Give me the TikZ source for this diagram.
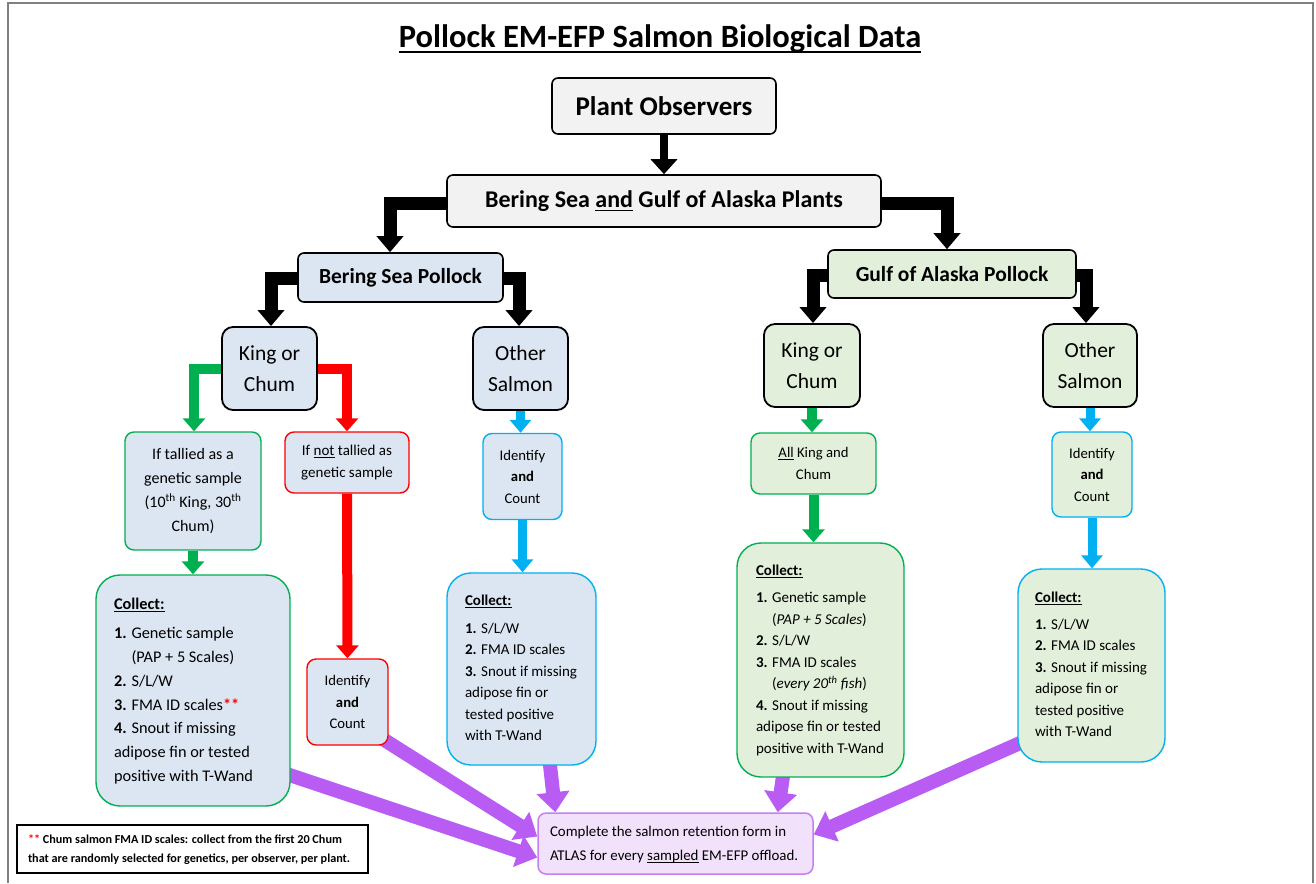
\documentclass[tikz,border=0pt]{standalone}
\usepackage{fontspec}
\setmainfont{Carlito}
\usetikzlibrary{arrows.meta,calc,backgrounds}
\definecolor{grayfill}{HTML}{F2F2F2}
\definecolor{bsfill}{HTML}{DCE6F2}
\definecolor{gofill}{HTML}{E2EFDA}
\definecolor{cgreen}{HTML}{00B050}
\definecolor{cblue}{HTML}{00B0F0}
\definecolor{cred}{HTML}{FF0000}
\definecolor{cpurple}{HTML}{B95CF4}
\definecolor{finfill}{HTML}{F2E1FB}
\definecolor{finline}{HTML}{C77EF2}
\definecolor{framegray}{HTML}{808080}
\newsavebox\ulbox
\newcommand\myul[1]{\sbox\ulbox{#1}\rlap{\rule[-0.17em]{\wd\ulbox}{0.065em}}\usebox\ulbox}
\newcommand\lefttext[2]{\makebox[#1][l]{\begin{tabular}{@{}l@{}}#2\end{tabular}}}
\begin{document}
\begin{tikzpicture}[x=1pt,y=-1pt,
  every node/.style={inner sep=0pt, text=black},
  sz/.style n args={2}{minimum width=#1pt, minimum height=#2pt},
  topbox/.style={draw=black, line width=1.6pt, fill=grayfill, rounded corners=6pt},
  bsreg/.style={draw=black, line width=1.6pt, fill=bsfill, rounded corners=6pt},
  goreg/.style={draw=black, line width=1.6pt, fill=gofill, rounded corners=6pt},
  bsspec/.style={draw=black, line width=1.8pt, fill=bsfill, rounded corners=11pt, align=center, font=\fontsize{21.5}{31}\selectfont},
  gospec/.style={draw=black, line width=1.8pt, fill=gofill, rounded corners=11pt, align=center, font=\fontsize{21.5}{31}\selectfont},
  smallbox/.style={line width=1.4pt, rounded corners=9pt, align=center},
  collectbox/.style={line width=1.4pt, rounded corners=24pt},
  blk/.style={draw=black, line width=13pt, line join=miter, -{Triangle[width=26pt,length=16pt]}},
  blkthin/.style={draw=black, line width=8pt, -{Triangle[width=26pt,length=15pt]}},
  garr/.style={draw=cgreen, line width=10pt, line join=miter, -{Triangle[width=22pt,length=13pt]}},
  rarr/.style={draw=cred, line width=10pt, line join=miter, -{Triangle[width=22pt,length=13pt]}},
  barr/.style={draw=cblue, line width=9pt, -{Triangle[width=21pt,length=13pt]}},
  parr/.style={draw=cpurple, line width=14pt, -{Triangle[width=32pt,length=20pt]}}
]
\useasboundingbox (0,0) rectangle (1316,883);
\draw[framegray, line width=1.5pt] (8,883) -- (8,3) -- (1313,3) -- (1313,883);

% title
\node[font=\fontsize{32.5}{36}\selectfont\bfseries] (title) at (660,38.5) {\myul{Pollock EM-EFP Salmon Biological Data}};

% top levels
\node[topbox, sz={224}{56}, font=\fontsize{27}{30}\selectfont\bfseries] (po) at (664,106) {Plant Observers};
\node[topbox, sz={434}{52}, font=\fontsize{24}{28}\selectfont\bfseries] (bsgoa) at (664,201) {Bering Sea \myul{and} Gulf of Alaska Plants};
\node[bsreg, sz={205}{49}, font=\fontsize{21.5}{25}\selectfont\bfseries] (bsp) at (400.5,277.5) {Bering Sea Pollock};
\node[goreg, sz={248}{48}, font=\fontsize{21.5}{25}\selectfont\bfseries] (goap) at (952,274) {Gulf of Alaska Pollock};

% species
\node[bsspec, sz={95}{83}] (bsk) at (269.5,368.5) {King or\\Chum};
\node[bsspec, sz={95}{83}] (bso) at (520.5,368.5) {Other\\Salmon};
\node[gospec, sz={96}{83}] (gok) at (812,365.5) {King or\\Chum};
\node[gospec, sz={94}{83}] (goo) at (1090,365.5) {Other\\Salmon};

% second level
\node[smallbox, draw=cgreen, fill=bsfill, sz={136}{118}, font=\fontsize{16}{23.7}\selectfont] (bsg) at (193,491)
  {If tallied as a\\genetic sample\\(10\textsuperscript{th} King, 30\textsuperscript{th}\\Chum)};
\node[smallbox, draw=cred, fill=bsfill, sz={124}{61}, font=\fontsize{15}{22}\selectfont] (bsr) at (347,462.5)
  {If \myul{not} tallied as\\genetic sample};
\node[smallbox, draw=cblue, fill=bsfill, sz={79}{86}, font=\fontsize{14.7}{21.5}\selectfont] (bsoi) at (522.5,476.5)
  {Identify\\\textbf{and}\\Count};
\node[smallbox, draw=cred, fill=bsfill, sz={81}{86}, font=\fontsize{14.7}{21.5}\selectfont] (bsri) at (347.5,702)
  {Identify\\\textbf{and}\\Count};
\node[smallbox, draw=cgreen, fill=gofill, sz={125}{61}, font=\fontsize{14.7}{22}\selectfont] (goai) at (813.5,463.5)
  {\myul{All} King and\\Chum};
\node[smallbox, draw=cblue, fill=gofill, sz={80}{85}, font=\fontsize{14.7}{21.5}\selectfont] (gooi) at (1092,474.5)
  {Identify\\\textbf{and}\\Count};

% collect boxes
\node[collectbox, draw=cgreen, fill=bsfill, sz={194}{231}, font=\fontsize{16.3}{23.7}\selectfont] (bsc) at (193,690.5)
  {\lefttext{158pt}{\myul{\textbf{Collect:}}\\[6pt]
   \textbf{1.} Genetic sample\\
   \hphantom{\textbf{1.} }(PAP + 5 Scales)\\
   \textbf{2.} S/L/W\\
   \textbf{3.} FMA ID scales\textcolor{cred}{\textbf{**}}\\
   \textbf{4.} Snout if missing\\
   adipose fin or tested\\
   positive with T-Wand}};
\node[collectbox, draw=cblue, fill=bsfill, sz={149}{192}, font=\fontsize{15}{21.5}\selectfont] (bsoc) at (521.5,669)
  {\lefttext{113pt}{\myul{\textbf{Collect:}}\\[6pt]
   \textbf{1.} S/L/W\\
   \textbf{2.} FMA ID scales\\
   \textbf{3.} Snout if missing\\
   adipose fin or\\
   tested positive\\
   with T-Wand}};
\node[collectbox, draw=cgreen, fill=gofill, sz={167}{234}, font=\fontsize{15}{21.5}\selectfont] (goc) at (820.5,660)
  {\lefttext{129pt}{\myul{\textbf{Collect:}}\\[6pt]
   \textbf{1.} Genetic sample\\
   \hphantom{\textbf{1.} }(\textit{PAP + 5 Scales})\\
   \textbf{2.} S/L/W\\
   \textbf{3.} FMA ID scales\\
   \hphantom{\textbf{1.} }(\textit{every 20\textsuperscript{th} fish})\\
   \textbf{4.} Snout if missing\\
   adipose fin or tested\\
   positive with T-Wand}};
\node[collectbox, draw=cblue, fill=gofill, sz={147}{193}, font=\fontsize{15}{21.5}\selectfont] (gooc) at (1091.5,665.5)
  {\lefttext{113pt}{\myul{\textbf{Collect:}}\\[5pt]
   \textbf{1.} S/L/W\\
   \textbf{2.} FMA ID scales\\
   \textbf{3.} Snout if missing\\
   adipose fin or\\
   tested positive\\
   with T-Wand}};

% final box and note
\node[draw=finline, fill=finfill, line width=1.5pt, rounded corners=8pt, sz={275}{61}, font=\fontsize{14.9}{24}\selectfont] (fin) at (675.5,843.5)
  {\lefttext{251pt}{Complete the salmon retention form in\\ATLAS for every \myul{sampled} EM-EFP offload.}};
\node[draw=black, line width=1.4pt, fill=white, sz={351}{48}, font=\fontsize{12.2}{19}\selectfont\bfseries] (note) at (192.5,849)
  {\lefttext{329pt}{\textcolor{cred}{**} Chum salmon FMA ID scales: collect from the first 20 Chum\\that are randomly selected for genetics, per observer, per plant.}};

\begin{scope}[on background layer]
\draw[blkthin] (po.south) -- (bsgoa.north);
\draw[blk] ($(bsgoa.west)+(5,2)$) -| ($(bsp.north)+(-10.5,0)$);
\draw[blk] ($(bsgoa.east)+(-5,2)$) -| ($(goap.north)+(-5,0)$);
\draw[blk] ($(bsp.west)+(5,0.5)$) -| ($(bsk.north)+(1.5,0)$);
\draw[blk] ($(bsp.east)+(-5,0.5)$) -| ($(bso.north)+(-1.5,0)$);
\draw[blk] ($(goap.west)+(5,1)$) -| ($(gok.north)+(1,0)$);
\draw[blk] ($(goap.east)+(-5,1)$) -| ($(goo.north)+(-4,0)$);

\draw[garr] ($(bsk.west)+(5,0)$) -| ($(bsg.north)+(1,0)$);
\draw[rarr] ($(bsk.east)+(-5,0)$) -| (bsr.north);
\draw[garr] (bsg.south) -- (bsc.north);
\draw[rarr] (bsr.south) -- (bsri.north);
\draw[barr] (bso.south) -- (bso.south |- bsoi.north);
\draw[barr] (bsoi.south) -- (bsoi.south |- bsoc.north);
\draw[garr] (gok.south) -- (gok.south |- goai.north);
\draw[garr] (goai.south) -- (goai.south |- goc.north);
\draw[barr] (goo.south) -- (goo.south |- gooi.north);
\draw[barr] (gooi.south) -- (gooi.south |- gooc.north);

\draw[parr] ($(bsc.south east)+(-8,-34)$) -- ($(fin.west)+(0,14)$);
\draw[parr] ($(bsri.south east)+(-8,-8)$) -- ($(fin.west)+(0,-7)$);
\draw[parr] ($(bsoc.south)+(28,-5)$) -- ($(fin.north west)+(18,0)$);
\draw[parr] ($(goc.south)+(-37,-5)$) -- ($(fin.north east)+(-36,0)$);
\draw[parr] ($(gooc.south west)+(8,-22)$) -- ($(fin.east)+(0,-9)$);
\end{scope}
\end{tikzpicture}
\end{document}
